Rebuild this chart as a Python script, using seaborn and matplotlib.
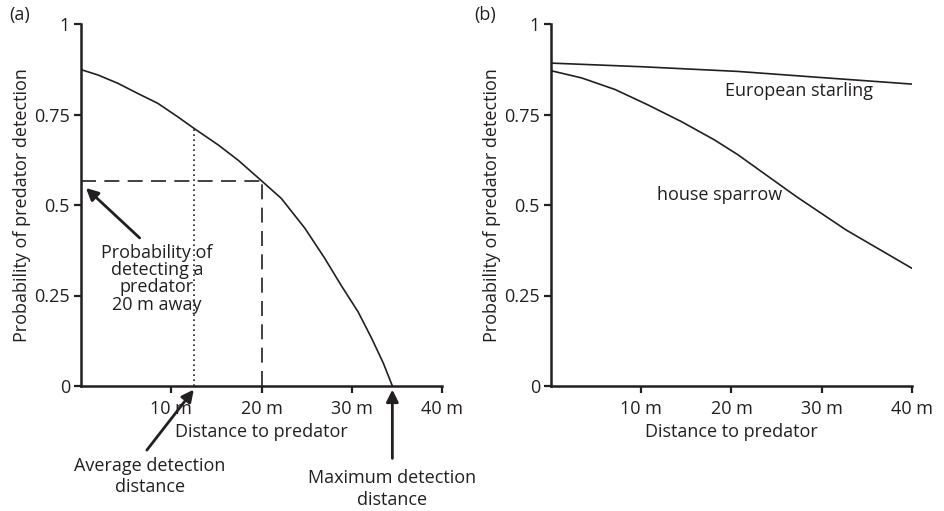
import numpy as np
import pandas as pd
import matplotlib
matplotlib.use("Agg")
import matplotlib.pyplot as plt
import seaborn as sns

# Panel (a): detection curve for a single species
dist_a = [0, 1.9, 4.1, 6.3, 8.5, 10.7, 12.5, 15.2, 17.4, 20, 22.2, 24.8, 27.0, 28.8, 30.7, 32.2, 33.5, 34.5]
prob_a = [0.874, 0.859, 0.836, 0.808, 0.781, 0.744, 0.712, 0.666, 0.624, 0.567, 0.518, 0.436, 0.353, 0.279, 0.205, 0.132, 0.063, 0.0]

# Panel (b): two species
dist_sparrow = [0, 3.4, 7.1, 10.7, 14.4, 18.1, 20.7, 27.2, 32.7, 40]
prob_sparrow = [0.871, 0.851, 0.819, 0.777, 0.731, 0.680, 0.639, 0.523, 0.431, 0.325]
dist_starling = [0, 10, 20.7, 30, 40]
prob_starling = [0.892, 0.882, 0.869, 0.852, 0.834]

avg_dist = 12.5
p_at_20 = 0.567
p_at_avg = 0.712
max_dist = 34.5

x_ticks = [10, 20, 30, 40]
x_labels = ["10 m", "20 m", "30 m", "40 m"]
y_ticks = [0, 0.25, 0.5, 0.75, 1]
y_labels = ["0", "0.25", "0.5", "0.75", "1"]

INK = "#231f20"
FS = 13

sns.set_style("ticks")
plt.rcParams["font.family"] = ["Open Sans", "DejaVu Sans"]
plt.rcParams["font.size"] = FS
plt.rcParams["text.color"] = INK
plt.rcParams["axes.labelcolor"] = INK
plt.rcParams["xtick.color"] = INK
plt.rcParams["ytick.color"] = INK

fig = plt.figure(figsize=(9.45, 5.11), dpi=100)
ax_a = fig.add_axes([81 / 945, 1 - 386 / 511, 361 / 945, 362 / 511])
ax_b = fig.add_axes([551 / 945, 1 - 386 / 511, 361 / 945, 362 / 511])

df_a = pd.DataFrame({"dist": dist_a, "prob": prob_a})
sns.lineplot(data=df_a, x="dist", y="prob", ax=ax_a, color=INK, lw=1.2)

df_b = pd.concat([
    pd.DataFrame({"dist": dist_sparrow, "prob": prob_sparrow, "bird": "house sparrow"}),
    pd.DataFrame({"dist": dist_starling, "prob": prob_starling, "bird": "European starling"}),
])
sns.lineplot(data=df_b, x="dist", y="prob", units="bird", estimator=None,
             ax=ax_b, color=INK, lw=1.2, legend=False)

for ax in (ax_a, ax_b):
    ax.set_xlim(0, 40)
    ax.set_ylim(0, 1)
    ax.set_xticks(x_ticks)
    ax.set_xticklabels(x_labels)
    ax.set_yticks(y_ticks)
    ax.set_yticklabels(y_labels)
    ax.tick_params(axis="both", length=5, width=1.6, pad=3, labelsize=FS)
    ax.tick_params(axis="x", pad=5)
    for s in ("left", "bottom"):
        ax.spines[s].set_linewidth(1.8)
        ax.spines[s].set_color(INK)
    sns.despine(ax=ax)
    ax.set_xlabel("Distance to predator", labelpad=4)
    ax.set_ylabel("Probability of predator detection", labelpad=2)

# guide lines in (a)
ax_a.plot([0, 20], [p_at_20, p_at_20], color=INK, lw=1.2, dashes=(9, 5))
ax_a.plot([20, 20], [0, p_at_20], color=INK, lw=1.2, dashes=(9, 5))
ax_a.plot([avg_dist, avg_dist], [0, p_at_avg], color=INK, lw=1.2, dashes=(1, 2))

arrow = dict(arrowstyle="-|>", color=INK, lw=2, mutation_scale=18, shrinkA=0, shrinkB=0)
ax_a.annotate("", xy=(0.55, 0.547), xytext=(6.5, 0.409), arrowprops=arrow)
ax_a.text(8.4, 0.296, "Probability of\ndetecting a\npredator\n20 m away",
          ha="center", va="center", linespacing=0.95)
ax_a.annotate("", xy=(avg_dist, -0.01), xytext=(7.3, -0.177),
              arrowprops=arrow, annotation_clip=False)
ax_a.text(7.6, -0.25, "Average detection\ndistance", ha="center", va="center",
          linespacing=1.25, clip_on=False)
ax_a.annotate("", xy=(max_dist, -0.01), xytext=(max_dist, -0.2),
              arrowprops=arrow, annotation_clip=False)
ax_a.text(max_dist, -0.285, "Maximum detection\ndistance", ha="center", va="center",
          linespacing=1.25, clip_on=False)

ax_b.text(27.5, 0.816, "European starling", ha="center", va="center")
ax_b.text(18.7, 0.528, "house sparrow", ha="center", va="center")

fig.text(20 / 945, 1 - 15 / 511, "(a)", ha="center", va="center")
fig.text(485 / 945, 1 - 15 / 511, "(b)", ha="center", va="center")

fig.savefig("out.png", dpi=100)
